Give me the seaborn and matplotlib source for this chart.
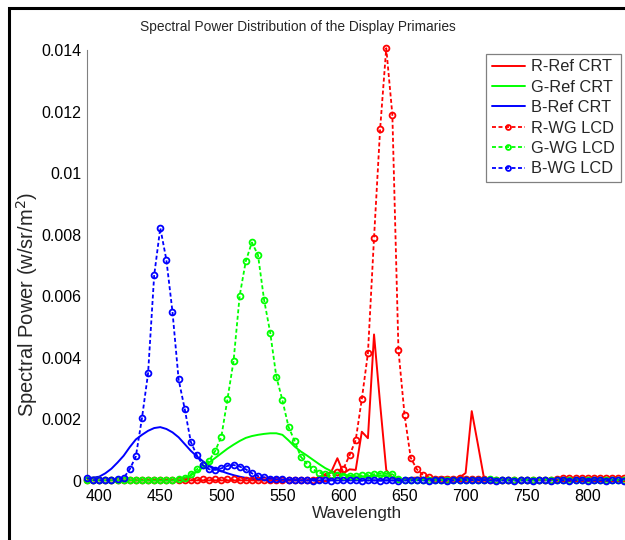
import numpy as np
import pandas as pd
import matplotlib
matplotlib.use("Agg")
import matplotlib.pyplot as plt
from matplotlib.patches import Rectangle
import seaborn as sns

wavelength = list(range(390, 835, 5))

r_ref_crt = ([2e-5] * 37 +
             [5e-5, 1.2e-4, 2.2e-4, 3.0e-4, 7.4e-4, 2.5e-4, 3.8e-4, 3.6e-4,
              1.6e-3, 1.39e-3, 4.76e-3, 2.5e-3, 3.6e-4, 1.0e-4, 8e-5, 6e-5] +
             [1.0e-4, 1.1e-4, 1.0e-4, 9e-5, 1.0e-4, 1.2e-4, 1.1e-4, 1.0e-4, 1.1e-4] +
             [2.6e-4, 2.27e-3, 1.2e-3, 1.0e-4] +
             [3e-5] * 23)

g_ref_crt = ([2e-5] * 16 +
             [8e-5, 1.8e-4, 3.0e-4, 4.5e-4, 6.0e-4, 7.5e-4, 9.0e-4, 1.05e-3, 1.18e-3,
              1.3e-3, 1.4e-3, 1.46e-3, 1.5e-3, 1.53e-3, 1.55e-3, 1.55e-3, 1.5e-3,
              1.32e-3, 1.12e-3, 9.6e-4, 8.3e-4, 6.9e-4, 5.5e-4, 4.2e-4, 3.2e-4,
              2.5e-4, 2.0e-4, 1.7e-4, 1.5e-4, 1.5e-4, 1.6e-4, 1.7e-4, 1.8e-4,
              1.6e-4, 1.3e-4] +
             [3e-5] * 38)

b_ref_crt = ([1.0e-4, 1.1e-4, 1.4e-4, 2.5e-4, 4.0e-4, 6.0e-4, 8.2e-4, 1.1e-3, 1.35e-3,
              1.5e-3, 1.63e-3, 1.72e-3, 1.75e-3, 1.69e-3, 1.58e-3, 1.42e-3, 1.2e-3,
              9.8e-4, 8.0e-4, 6.4e-4, 5.0e-4, 4.0e-4, 3.2e-4, 2.5e-4, 1.9e-4, 1.4e-4,
              1.0e-4, 7e-5, 5e-5, 4e-5] +
             [2e-5] * 59)

r_wg_lcd = ([3e-5, 2e-5, 3e-5, 2e-5, 3e-5, 3e-5, 2e-5, 3e-5, 2e-5, 3e-5,
             3e-5, 4e-5, 3e-5, 4e-5, 3e-5, 4e-5, 4e-5, 3e-5, 4e-5, 5e-5,
             4e-5, 5e-5, 4e-5, 5e-5, 5e-5, 4e-5, 3e-5, 3e-5, 2e-5, 3e-5,
             2e-5, 3e-5, 2e-5, 2e-5, 3e-5, 2e-5, 3e-5, 4e-5, 6e-5] +
            [1.0e-4, 2.0e-4, 3.0e-4, 4.0e-4, 8.4e-4, 1.33e-3, 2.66e-3, 4.15e-3,
             7.9e-3, 1.144e-2, 1.406e-2, 1.19e-2, 4.25e-3, 2.14e-3, 7.6e-4,
             3.8e-4, 2.0e-4, 1.2e-4, 8e-5] +
            [8e-5, 7e-5, 8e-5, 9e-5, 8e-5, 7e-5, 8e-5, 6e-5] +
            [3e-5, 2e-5, 3e-5, 2e-5, 3e-5, 2e-5, 3e-5, 2e-5, 3e-5, 2e-5, 3e-5, 5e-5] +
            [9e-5] * 11)

g_wg_lcd = ([2e-5] * 15 +
            [5e-5, 1.0e-4, 2.2e-4, 3.8e-4, 5.2e-4, 6.6e-4, 9.8e-4, 1.44e-3, 2.66e-3,
             3.9e-3, 6.02e-3, 7.14e-3, 7.75e-3, 7.34e-3, 5.88e-3, 4.82e-3, 3.39e-3,
             2.62e-3, 1.76e-3, 1.3e-3, 7.9e-4, 5.6e-4, 3.8e-4, 2.7e-4, 2.3e-4,
             2.0e-4, 1.8e-4, 1.6e-4, 1.5e-4, 1.6e-4, 1.8e-4, 2.0e-4, 2.2e-4,
             2.4e-4, 2.3e-4, 2.2e-4, 8e-5] +
            [3e-5, 2e-5, 3e-5, 4e-5, 3e-5, 2e-5, 3e-5, 2e-5, 3e-5, 4e-5,
             3e-5, 2e-5, 3e-5, 4e-5, 5e-5, 4e-5, 3e-5, 2e-5, 3e-5, 2e-5,
             3e-5, 2e-5, 3e-5, 4e-5, 3e-5, 2e-5, 3e-5, 2e-5, 3e-5, 2e-5,
             3e-5, 2e-5, 3e-5, 2e-5, 3e-5, 2e-5, 3e-5])

b_wg_lcd = ([1.0e-4, 3e-5, 2e-5, 2e-5, 3e-5, 6e-5, 1.0e-4, 3.8e-4, 8.0e-4, 2.04e-3,
             3.5e-3, 6.68e-3, 8.22e-3, 7.18e-3, 5.49e-3, 3.3e-3, 2.34e-3, 1.27e-3,
             8.3e-4, 5.1e-4, 3.8e-4, 3.6e-4, 4.1e-4, 4.9e-4, 5.2e-4, 4.7e-4, 3.8e-4,
             2.5e-4, 1.6e-4, 1.2e-4, 8e-5, 6e-5, 5e-5, 4e-5] +
            [3e-5, 2e-5, 2e-5, 1e-5, 2e-5, 2e-5, 1e-5, 2e-5, 2e-5, 3e-5,
             2e-5, 1e-5, 2e-5, 2e-5, 1e-5, 2e-5, 2e-5, 1e-5, 2e-5, 2e-5,
             3e-5, 2e-5, 1e-5, 2e-5, 2e-5, 1e-5, 2e-5, 3e-5, 4e-5, 3e-5,
             4e-5, 3e-5, 2e-5, 1e-5, 2e-5, 2e-5, 1e-5, 2e-5, 2e-5, 1e-5,
             2e-5, 2e-5, 1e-5, 2e-5, 2e-5, 1e-5, 2e-5, 2e-5, 1e-5, 2e-5,
             2e-5, 1e-5, 2e-5, 2e-5, 1e-5])

series_names = ["R-Ref CRT", "G-Ref CRT", "B-Ref CRT", "R-WG LCD", "G-WG LCD", "B-WG LCD"]
series_values = [r_ref_crt, g_ref_crt, b_ref_crt, r_wg_lcd, g_wg_lcd, b_wg_lcd]
y_ticks = [0, 0.002, 0.004, 0.006, 0.008, 0.01, 0.012, 0.014]
y_tick_labels = ["0", "0.002", "0.004", "0.006", "0.008", "0.01", "0.012", "0.014"]
x_ticks = [400, 450, 500, 550, 600, 650, 700, 750, 800]

sns.set_style("white")
plt.rcParams["font.family"] = ["Liberation Sans", "DejaVu Sans"]

colors = ["#ff0000", "#00ff00", "#0000ff", "#ff0000", "#00ff00", "#0000ff"]

fig = plt.figure(figsize=(6.25, 5.4), dpi=100)
ax = fig.add_axes([87 / 625, 1 - 481 / 540, 1 - 87 / 625 + 0.002, (481 - 50) / 540])

for name, vals, col in zip(series_names, series_values, colors):
    df = pd.DataFrame({"Wavelength": wavelength, "Power": vals})
    if "LCD" in name:
        sns.lineplot(data=df, x="Wavelength", y="Power", ax=ax, color=col,
                     linestyle=(0, (2.2, 1.4)), linewidth=1.3, marker="o",
                     markersize=4.2, markerfacecolor="none", markeredgecolor=col,
                     markeredgewidth=1.3, label=name, clip_on=False, zorder=3)
    else:
        sns.lineplot(data=df, x="Wavelength", y="Power", ax=ax, color=col,
                     linewidth=1.4, label=name, clip_on=False, zorder=3)

ax.set_xlim(390, 831.5)
ax.set_ylim(0, 0.014)
ax.set_yticks(y_ticks)
ax.set_yticklabels(y_tick_labels)
ax.set_xticks(x_ticks)
ax.tick_params(axis="both", direction="in", length=3, width=0.8, color="#808080",
               labelsize=11.5, labelcolor="black")
ax.tick_params(axis="y", pad=4)
ax.tick_params(axis="x", pad=6)

for s in ["top", "right", "bottom"]:
    ax.spines[s].set_visible(False)
ax.spines["left"].set_color("#808080")
ax.spines["left"].set_linewidth(0.8)

ax.set_xlabel("Wavelength", fontsize=12.3, labelpad=1)
ax.set_ylabel("Spectral Power (w/sr/m$^2$)", fontsize=14.5)
ax.yaxis.set_label_coords((40 - 87) / 539, (481 - 304) / 431)
fig.text(297.5 / 625, 1 - 27 / 540, "Spectral Power Distribution of the Display Primaries",
         fontsize=9.9, ha="center", va="center")

leg = ax.legend(loc="upper right", bbox_to_anchor=(620.5 / 625, 1 - 54 / 540),
                bbox_transform=fig.transFigure, fontsize=11.8, frameon=True,
                fancybox=False, handlelength=2.05, handletextpad=0.38,
                labelspacing=0.33, borderpad=0.33, borderaxespad=0)
leg.get_frame().set_edgecolor("#808080")
leg.get_frame().set_linewidth(0.9)
leg.get_frame().set_facecolor("white")
leg.get_frame().set_alpha(1)
for h in leg.get_lines():
    h.set_markersize(3.5)

border = Rectangle((8.5 / 625, -0.2), 1.5, 1 - 7.5 / 540 + 0.2, transform=fig.transFigure,
                   fill=False, edgecolor="black", linewidth=2.2, zorder=10)
fig.patches.append(border)

fig.savefig("out.png", dpi=100)
